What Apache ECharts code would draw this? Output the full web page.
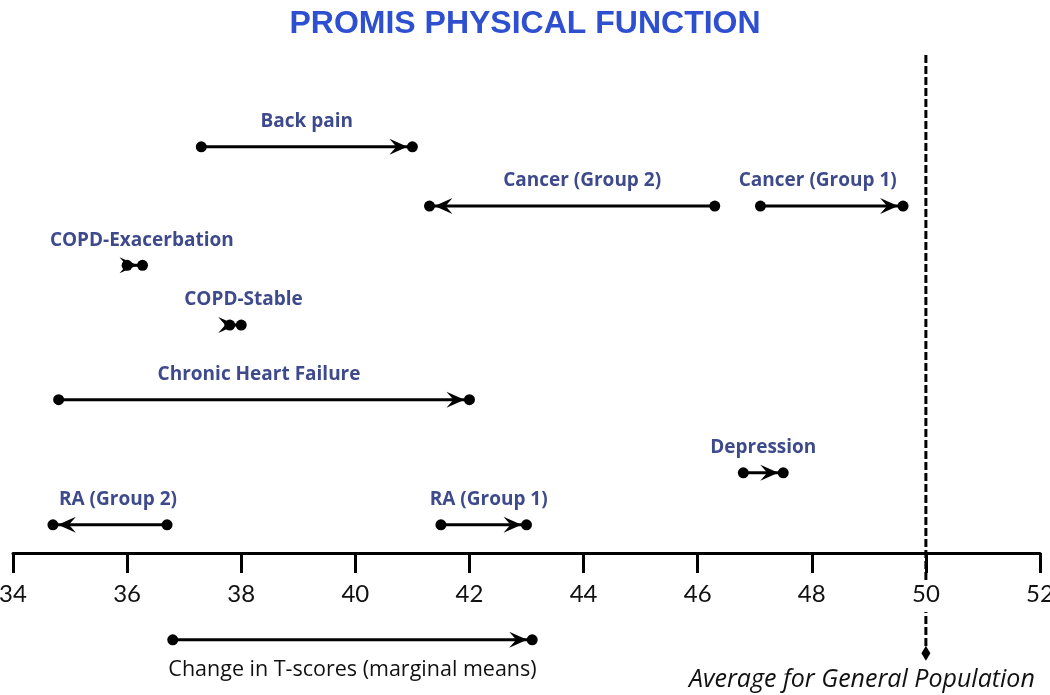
<!DOCTYPE html>
<html>
<head>
<meta charset="utf-8">
<script src="https://cdn.jsdelivr.net/npm/echarts@6/dist/echarts.min.js"></script>
<style>
  html, body { margin: 0; padding: 0; background: #fff; }
  #chart { width: 1050px; height: 695px; }
</style>
</head>
<body>
<div id="chart"></div>
<script>
// ---- data ----
const groups = ['Back pain', 'Cancer (Group 2)', 'Cancer (Group 1)', 'COPD-Exacerbation', 'COPD-Stable',
                'Chronic Heart Failure', 'Depression', 'RA (Group 2)', 'RA (Group 1)'];
const baselineScores = [37.3, 46.3, 47.1, 36.0, 37.8, 34.8, 46.8, 36.7, 41.5];
const followUpScores = [41.0, 41.3, 49.6, 36.27, 38.0, 42.0, 47.5, 34.7, 43.0];
const populationAverage = 50;
const legendText = 'Change in T-scores (marginal means)';
const legendStart = [36.8];
const legendEnd = [43.1];
const averageText = 'Average for General Population';
const xMin = 34, xMax = 52, xStep = 2;

// ---- layout (vertical row levels and label nudges in px, not data) ----
const rowLevel = [7.34, 6.27, 6.27, 5.2, 4.12, 2.77, 1.45, 0.51, 0.51];
const labelNudge = [0, 10, -14, 7, 8, -5, 0, 8, 5];
const legendLevel = -1.57;
const refLineTop = 9, refLineBottom = -1.81;

const labelFont = '"Open Sans", Lato, sans-serif';

function makeArrowRenderer(names, labelAbove, nudges) {
  return function (params, api) {
    const s = api.coord([api.value(0), api.value(2)]);
    const e = api.coord([api.value(1), api.value(2)]);
    const y = s[1];
    const dir = e[0] >= s[0] ? 1 : -1;
    const tip = e[0] - dir * 5;
    const nudge = nudges ? nudges[params.dataIndex] : 0;
    const children = [
      { type: 'line', shape: { x1: s[0], y1: y, x2: e[0], y2: y },
        style: { stroke: '#000', lineWidth: 3 } },
      { type: 'polygon', shape: { points: [[tip, y], [tip - dir * 18, y - 8], [tip - dir * 11, y], [tip - dir * 18, y + 8]] },
        style: { fill: '#000' } },
      { type: 'circle', shape: { cx: s[0], cy: y, r: 5.5 }, style: { fill: '#000' } },
      { type: 'circle', shape: { cx: e[0], cy: y, r: 5.5 }, style: { fill: '#000' } }
    ];
    if (labelAbove) {
      children.push({ type: 'text', style: {
        text: names[params.dataIndex], x: (s[0] + e[0]) / 2 + nudge, y: y - 25,
        align: 'center', verticalAlign: 'middle',
        fill: '#3e4a8c', fontSize: 19, fontWeight: 'bold', fontFamily: labelFont } });
    } else {
      children.push({ type: 'text', style: {
        text: names[params.dataIndex], x: (s[0] + e[0]) / 2 + nudge, y: y + 30,
        align: 'center', verticalAlign: 'middle',
        fill: '#111', fontSize: 21.5, fontFamily: labelFont } });
    }
    return { type: 'group', children: children };
  };
}

const arrowData = groups.map((g, i) => [baselineScores[i], followUpScores[i], rowLevel[i]]);
const legendData = legendStart.map((v, i) => [v, legendEnd[i], legendLevel]);

const chart = echarts.init(document.getElementById('chart'));
chart.setOption({
  animation: false,
  backgroundColor: '#fff',
  title: {
    text: 'PROMIS PHYSICAL FUNCTION',
    left: 'center',
    top: 3,
    textStyle: { color: '#2e4fd0', fontSize: 32, fontWeight: 'bold', fontFamily: '"Liberation Sans", Arial, sans-serif' }
  },
  grid: { left: 13, right: 10, top: 55, bottom: 142, containLabel: false, outerBoundsMode: 'none' },
  xAxis: {
    type: 'value', min: xMin, max: xMax, interval: xStep, z: 5,
    axisLine: { onZero: false, lineStyle: { color: '#000', width: 3 } },
    axisTick: { show: true, length: 20, lineStyle: { color: '#000', width: 3 } },
    axisLabel: { margin: 27, color: '#111', fontSize: 24, fontFamily: 'Lato, sans-serif',
                 backgroundColor: '#fff', padding: [2, 1, 6, 1] },
    splitLine: { show: false }
  },
  yAxis: { type: 'value', min: 0, max: 9, show: false },
  series: [
    {
      type: 'line',
      clip: false,
      data: [
        { value: [populationAverage, refLineTop], symbol: 'none' },
        { value: [populationAverage, refLineBottom], symbol: 'diamond', symbolSize: [9, 15],
          label: { show: true, position: 'bottom', distance: 7, offset: [-64, 0],
                   formatter: averageText, fontStyle: 'italic', fontSize: 25, color: '#111', fontFamily: labelFont } }
      ],
      showSymbol: true,
      itemStyle: { color: '#000' },
      lineStyle: { color: '#000', width: 3, type: [8, 3] },
      z: 1
    },
    {
      type: 'custom',
      clip: false,
      renderItem: makeArrowRenderer(groups, true, labelNudge),
      data: arrowData,
      encode: { x: [0, 1], y: 2 },
      z: 3
    },
    {
      type: 'custom',
      clip: false,
      renderItem: makeArrowRenderer([legendText], false, null),
      data: legendData,
      encode: { x: [0, 1], y: 2 },
      z: 3
    }
  ]
});
</script>
</body>
</html>
